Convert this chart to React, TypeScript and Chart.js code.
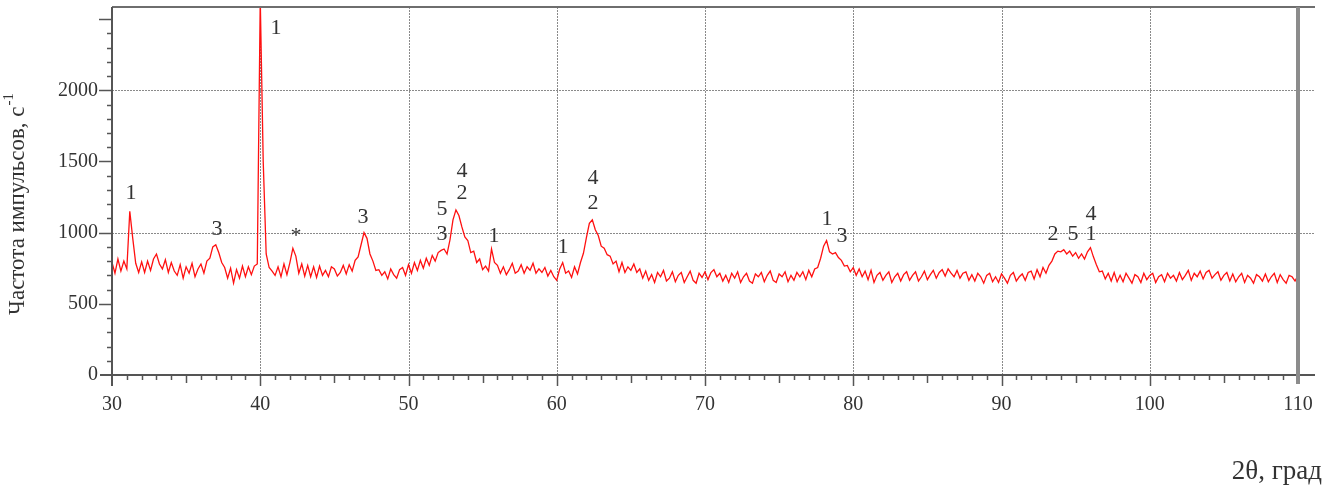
import React, { useEffect, useRef } from "react";
import { Chart, registerables } from "chart.js";

Chart.register(...registerables);

// Diffractogram sampled every 0.2° from 30° to 110° (2θ), counts per second
const angleStart = 30;
const angleStep = 0.2;
const counts: number[] = [
  790, 715, 815, 730, 800, 745, 1150, 960, 785, 720, // 30-32
  795, 720, 800, 735, 815, 850, 780, 745, 810, 720, // 32-34
  790, 730, 700, 775, 680, 760, 715, 785, 690, 745, // 34-36
  780, 715, 800, 820, 900, 915, 860, 790, 755, 680, // 36-38
  750, 645, 740, 680, 765, 690, 760, 705, 765, 780, // 38-40
  2640, 1500, 850, 755, 730, 700, 760, 690, 780, 705, // 40-42
  790, 890, 835, 715, 780, 695, 770, 690, 760, 685, // 42-44
  765, 700, 735, 690, 760, 745, 695, 720, 770, 710, // 44-46
  775, 730, 805, 830, 915, 1000, 960, 850, 800, 735, // 46-48
  740, 700, 725, 675, 745, 705, 680, 740, 755, 700, // 48-50
  775, 715, 790, 735, 805, 750, 820, 770, 840, 800, // 50-52
  860, 875, 885, 850, 950, 1090, 1160, 1120, 1040, 970, // 52-54
  945, 860, 870, 790, 815, 740, 765, 730, 885, 790, // 54-56
  770, 715, 760, 705, 740, 785, 715, 730, 775, 715, // 56-58
  760, 735, 785, 715, 745, 720, 755, 695, 735, 690, // 58-60
  665, 745, 790, 715, 730, 685, 760, 710, 790, 855, // 60-62
  965, 1065, 1090, 1020, 980, 905, 890, 845, 835, 780, // 62-64
  800, 725, 790, 720, 760, 735, 780, 720, 745, 680, // 64-66
  730, 665, 705, 650, 720, 690, 735, 660, 680, 725, // 66-68
  655, 700, 720, 650, 690, 730, 665, 645, 715, 685, // 68-70
  725, 670, 720, 740, 690, 715, 660, 700, 650, 715, // 70-72
  680, 725, 650, 690, 715, 660, 645, 710, 690, 720, // 72-74
  655, 700, 730, 665, 650, 710, 690, 725, 655, 700, // 74-76
  665, 720, 690, 725, 670, 735, 690, 745, 755, 820, // 76-78
  905, 945, 865, 850, 860, 825, 805, 765, 770, 725, // 78-80
  755, 700, 745, 690, 730, 670, 735, 650, 700, 720, // 80-82
  665, 700, 725, 650, 690, 715, 660, 705, 725, 665, // 82-84
  700, 725, 660, 690, 730, 670, 705, 735, 680, 720, // 84-86
  740, 695, 745, 715, 690, 735, 680, 715, 725, 665, // 86-88
  705, 660, 715, 690, 645, 700, 715, 655, 690, 650, // 88-90
  710, 680, 645, 700, 720, 660, 690, 710, 665, 720, // 90-92
  730, 675, 740, 690, 755, 715, 770, 800, 850, 870, // 92-94
  865, 880, 850, 870, 835, 860, 820, 850, 815, 865, // 94-96
  895, 830, 775, 725, 730, 675, 715, 660, 720, 655, // 96-98
  700, 655, 715, 680, 645, 705, 690, 650, 715, 670, // 98-100
  700, 715, 650, 690, 705, 655, 715, 680, 700, 660, // 100-102
  720, 670, 700, 735, 665, 715, 690, 730, 675, 720, // 102-104
  735, 680, 705, 725, 665, 700, 720, 660, 710, 655, // 104-106
  690, 715, 650, 700, 680, 645, 705, 690, 660, 710, // 106-108
  655, 690, 715, 650, 705, 670, 645, 700, 690, 660, // 108-110
  700,
];

// Axis ranges and ticks
const xMin = 30;
const xMax = 110;
const xMajorStep = 10;
const yMin = 0;
const yMax = 2585;
const yTickValues = [0, 500, 1000, 1500, 2000];
const yGridValues = [1000, 2000];
const xGridValues = [40, 50, 60, 70, 80, 90, 100];

// Phase labels placed over the peaks
const peakLabelTexts = ["1", "3", "1", "*", "3", "5", "3", "4", "2", "1", "1", "4", "2", "1", "3", "2", "5", "1", "4"];
const peakLabelAngles = [31.28, 37.08, 41.06, 42.41, 46.93, 52.26, 52.26, 53.61, 53.61, 55.77, 60.42, 62.45, 62.45, 78.23, 79.24, 93.48, 94.82, 96.04, 96.04];
const peakLabelCounts = [1285, 1033, 2444, 985, 1117, 1173, 997, 1440, 1285, 983, 906, 1391, 1215, 1103, 983, 997, 997, 997, 1138];

const yTitle = "Частота импульсов, с";
const yTitleSup = "-1";
const xTitle = "2θ, град";

const FONT = "'Liberation Serif', 'Times New Roman', serif";
const TEXT_COLOR = "#333333";

export default function App() {
  const ref = useRef<HTMLCanvasElement>(null);

  useEffect(() => {
    document.body.style.margin = "0";
    const canvas = ref.current;
    if (!canvas) return;

    const points = counts.map((c, i) => ({
      x: Math.round((angleStart + i * angleStep) * 10) / 10,
      y: c,
    }));

    const decor = {
      id: "xrdDecor",
      beforeDatasetsDraw(chart: any) {
        const { ctx, chartArea, scales } = chart;
        const xs = scales.x;
        const ys = scales.y;
        ctx.save();
        ctx.strokeStyle = "#8a8a8a";
        ctx.lineWidth = 1;
        ctx.setLineDash([2, 1]);
        for (const v of yGridValues) {
          const y = Math.round(ys.getPixelForValue(v)) + 0.5;
          ctx.beginPath();
          ctx.moveTo(chartArea.left, y);
          ctx.lineTo(chartArea.right + 17, y);
          ctx.stroke();
        }
        for (const v of xGridValues) {
          const x = Math.round(xs.getPixelForValue(v)) + 0.5;
          ctx.beginPath();
          ctx.moveTo(x, chartArea.top);
          ctx.lineTo(x, chartArea.bottom);
          ctx.stroke();
        }
        ctx.restore();
      },
      afterDraw(chart: any) {
        const { ctx, chartArea, scales } = chart;
        const xs = scales.x;
        const ys = scales.y;
        const L = chartArea.left;
        const R = chartArea.right;
        const T = chartArea.top;
        const B = chartArea.bottom;
        ctx.save();
        // frame
        ctx.strokeStyle = "#6e6e6e";
        ctx.lineWidth = 2;
        ctx.beginPath();
        ctx.moveTo(L, T);
        ctx.lineTo(R + 17, T);
        ctx.stroke();
        ctx.strokeStyle = "#555555";
        ctx.beginPath();
        ctx.moveTo(L, T);
        ctx.lineTo(L, B + 11);
        ctx.stroke();
        ctx.beginPath();
        ctx.moveTo(L - 12, B);
        ctx.lineTo(R + 17, B);
        ctx.stroke();
        ctx.strokeStyle = "#8c8c8c";
        ctx.lineWidth = 4;
        ctx.beginPath();
        ctx.moveTo(R, T);
        ctx.lineTo(R, B + 9);
        ctx.stroke();

        // ticks
        ctx.strokeStyle = "#555555";
        ctx.lineWidth = 1.5;
        for (let v = xMin; v <= xMax; v += 1) {
          if (v === xMin || v === xMax) continue;
          const x = Math.round(xs.getPixelForValue(v)) + 0.5;
          const len = v % 10 === 0 ? 11 : v % 5 === 0 ? 8 : 5;
          ctx.beginPath();
          ctx.moveTo(x, B);
          ctx.lineTo(x, B + len);
          ctx.stroke();
        }
        for (let v = yMin + 100; v < yMax; v += 100) {
          const y = Math.round(ys.getPixelForValue(v)) + 0.5;
          const len = v % 500 === 0 ? 13 : 5;
          ctx.beginPath();
          ctx.moveTo(L - len, y);
          ctx.lineTo(L, y);
          ctx.stroke();
        }

        // peak labels
        ctx.fillStyle = TEXT_COLOR;
        ctx.font = `22px ${FONT}`;
        ctx.textAlign = "center";
        ctx.textBaseline = "middle";
        peakLabelTexts.forEach((t, i) => {
          const x = xs.getPixelForValue(peakLabelAngles[i]);
          const y = ys.getPixelForValue(peakLabelCounts[i]);
          ctx.fillText(t, x, y + 1);
        });

        // y title
        ctx.save();
        ctx.translate(17, 204);
        ctx.rotate(-Math.PI / 2);
        ctx.font = `23px ${FONT}`;
        const mainW = ctx.measureText(yTitle).width;
        ctx.font = `15px ${FONT}`;
        const supW = ctx.measureText(yTitleSup).width;
        const start = -(mainW + supW + 1) / 2;
        ctx.textAlign = "left";
        ctx.textBaseline = "alphabetic";
        ctx.font = `23px ${FONT}`;
        ctx.fillText(yTitle, start, 7);
        ctx.font = `15px ${FONT}`;
        ctx.fillText(yTitleSup, start + mainW + 1, -4);
        ctx.restore();

        // x title
        ctx.font = `27px ${FONT}`;
        ctx.textAlign = "right";
        ctx.textBaseline = "alphabetic";
        ctx.fillText(xTitle, 1322, 479);
        ctx.restore();
      },
    };

    const chart = new Chart(canvas, {
      type: "line",
      data: {
        datasets: [
          {
            data: points,
            borderColor: "#ff1010",
            borderWidth: 1.3,
            pointRadius: 0,
            tension: 0,
            fill: false,
          },
        ],
      },
      options: {
        responsive: false,
        animation: false,
        events: [],
        parsing: false as any,
        normalized: true,
        layout: { padding: { left: 0, right: 40, top: 7, bottom: 0 } },
        plugins: {
          legend: { display: false },
          tooltip: { enabled: false },
        },
        scales: {
          x: {
            type: "linear",
            min: xMin,
            max: xMax,
            grid: { display: false, drawTicks: false },
            border: { display: false },
            ticks: {
              stepSize: xMajorStep,
              autoSkip: false,
              maxRotation: 0,
              padding: 18,
              color: TEXT_COLOR,
              font: { family: FONT, size: 20 },
            },
            afterFit(scale: any) {
              scale.height = 113;
              scale.paddingLeft = 0;
              scale.paddingRight = 0;
            },
          },
          y: {
            type: "linear",
            min: yMin,
            max: yMax,
            grid: { display: false, drawTicks: false },
            border: { display: false },
            ticks: {
              autoSkip: false,
              padding: 14,
              color: TEXT_COLOR,
              font: { family: FONT, size: 20 },
              callback: (v: any) => String(v),
            },
            afterBuildTicks(scale: any) {
              scale.ticks = yTickValues.map((v) => ({ value: v }));
            },
            afterFit(scale: any) {
              scale.width = 112;
              scale.paddingTop = 0;
              scale.paddingBottom = 0;
            },
          },
        },
      },
      plugins: [decor],
    });

    return () => chart.destroy();
  }, []);

  return (
    <canvas
      ref={ref}
      width={1338}
      height={488}
      style={{ display: "block", position: "absolute", left: 0, top: 0 }}
    />
  );
}
